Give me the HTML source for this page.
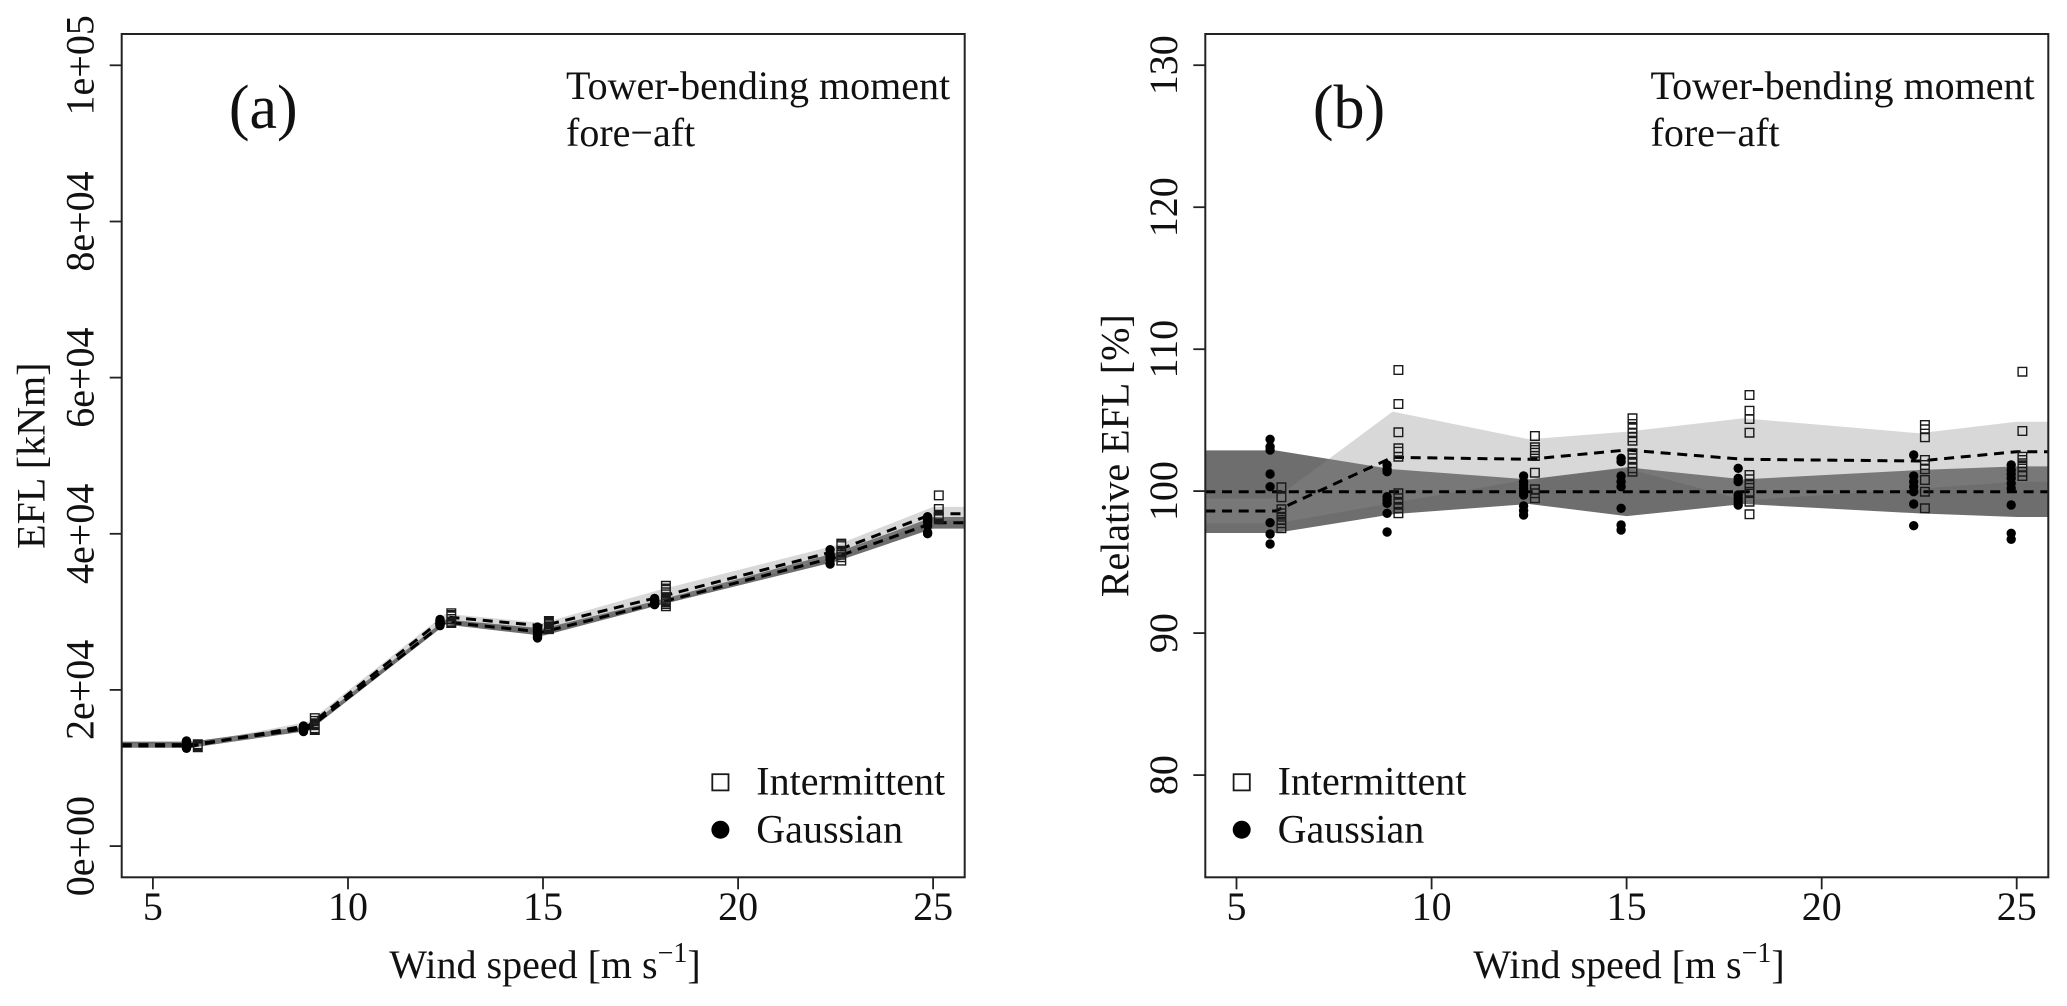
<!DOCTYPE html>
<html>
<head>
<meta charset="utf-8">
<style>
  html, body { margin:0; padding:0; background:#fff; }
  svg { display:block; }
  text { font-family: "Liberation Serif", "Times New Roman", serif; fill:#111; }
</style>
</head>
<body>
<svg width="2067" height="1006" viewBox="0 0 2067 1006" xmlns="http://www.w3.org/2000/svg">
<rect x="0" y="0" width="2067" height="1006" fill="#fff"/>

<!-- ================= PANEL A ================= -->
<!-- bands -->
<polygon fill="#d9d9d9" points="121.7,744.0 191.9,744.0 309.0,721.5 445.5,613.7 543.0,623.0 660.0,589.7 835.6,545.4 933.1,506.9 964.7,506.9 964.7,520.5 933.1,520.5 835.6,556.6 660.0,603.9 543.0,628.6 445.5,620.1 309.0,729.1 191.9,748.0 121.7,748.0"/>
<polygon fill="#6e6e6e" points="121.7,741.6 191.9,741.6 309.0,725.7 445.5,619.5 543.0,628.4 660.0,599.9 835.6,552.8 933.1,517.0 964.7,517.0 964.7,528.6 933.1,528.6 835.6,561.6 660.0,604.9 543.0,635.8 445.5,624.5 309.0,730.7 191.9,747.6 121.7,747.6"/>
<polygon fill="#d9d9d9" fill-opacity="0.1" points="121.7,744.0 191.9,744.0 309.0,721.5 445.5,613.7 543.0,623.0 660.0,589.7 835.6,545.4 933.1,506.9 964.7,506.9 964.7,520.5 933.1,520.5 835.6,556.6 660.0,603.9 543.0,628.6 445.5,620.1 309.0,729.1 191.9,748.0 121.7,748.0"/>

<!-- dashed means -->
<polyline fill="none" stroke="#000" stroke-width="3" stroke-dasharray="10 6.7" points="121.7,744.6 191.9,744.6 309.0,728.2 445.5,622.0 543.0,632.1 660.0,602.4 835.6,557.2 933.1,522.8 964.7,522.8"/>
<polyline fill="none" stroke="#000" stroke-width="3" stroke-dasharray="10 6.7" points="121.7,746.0 191.9,746.0 309.0,725.3 445.5,616.9 543.0,625.8 660.0,596.8 835.6,551.0 933.1,513.7 964.7,513.7"/>

<!-- gaussian dots A -->
<g fill="#000">
<circle cx="186.5" cy="740.9" r="4.7"/><circle cx="186.5" cy="741.4" r="4.7"/><circle cx="186.5" cy="741.6" r="4.7"/><circle cx="186.5" cy="743.3" r="4.7"/><circle cx="186.5" cy="744.2" r="4.7"/><circle cx="186.5" cy="746.8" r="4.7"/><circle cx="186.5" cy="747.6" r="4.7"/><circle cx="186.5" cy="748.3" r="4.7"/>
<circle cx="303.5" cy="726.0" r="4.7"/><circle cx="303.5" cy="726.3" r="4.7"/><circle cx="303.5" cy="726.5" r="4.7"/><circle cx="303.5" cy="728.6" r="4.7"/><circle cx="303.5" cy="728.9" r="4.7"/><circle cx="303.5" cy="729.2" r="4.7"/><circle cx="303.5" cy="730.0" r="4.7"/><circle cx="303.5" cy="731.5" r="4.7"/>
<circle cx="440.0" cy="619.5" r="4.7"/><circle cx="440.0" cy="620.4" r="4.7"/><circle cx="440.0" cy="620.9" r="4.7"/><circle cx="440.0" cy="621.5" r="4.7"/><circle cx="440.0" cy="622.0" r="4.7"/><circle cx="440.0" cy="622.5" r="4.7"/><circle cx="440.0" cy="624.3" r="4.7"/><circle cx="440.0" cy="625.0" r="4.7"/><circle cx="440.0" cy="625.7" r="4.7"/>
<circle cx="537.5" cy="627.1" r="4.7"/><circle cx="537.5" cy="627.6" r="4.7"/><circle cx="537.5" cy="629.7" r="4.7"/><circle cx="537.5" cy="630.6" r="4.7"/><circle cx="537.5" cy="631.3" r="4.7"/><circle cx="537.5" cy="634.6" r="4.7"/><circle cx="537.5" cy="637.1" r="4.7"/><circle cx="537.5" cy="637.9" r="4.7"/>
<circle cx="654.6" cy="598.4" r="4.7"/><circle cx="654.6" cy="600.1" r="4.7"/><circle cx="654.6" cy="600.7" r="4.7"/><circle cx="654.6" cy="603.0" r="4.7"/><circle cx="654.6" cy="603.5" r="4.7"/><circle cx="654.6" cy="604.1" r="4.7"/><circle cx="654.6" cy="604.7" r="4.7"/>
<circle cx="830.1" cy="549.7" r="4.7"/><circle cx="830.1" cy="554.0" r="4.7"/><circle cx="830.1" cy="555.2" r="4.7"/><circle cx="830.1" cy="556.2" r="4.7"/><circle cx="830.1" cy="557.2" r="4.7"/><circle cx="830.1" cy="559.7" r="4.7"/><circle cx="830.1" cy="564.1" r="4.7"/>
<circle cx="927.6" cy="516.7" r="4.7"/><circle cx="927.6" cy="517.9" r="4.7"/><circle cx="927.6" cy="518.8" r="4.7"/><circle cx="927.6" cy="519.7" r="4.7"/><circle cx="927.6" cy="520.9" r="4.7"/><circle cx="927.6" cy="522.0" r="4.7"/><circle cx="927.6" cy="525.8" r="4.7"/><circle cx="927.6" cy="532.3" r="4.7"/><circle cx="927.6" cy="533.7" r="4.7"/>
</g>

<!-- intermittent squares A -->
<path fill="none" stroke="#1a1a1a" stroke-width="1.4" d="
M193.5 740.0h8.6v8.6h-8.6z M193.5 740.7h8.6v8.6h-8.6z M193.5 741.6h8.6v8.6h-8.6z M193.5 741.8h8.6v8.6h-8.6z M193.5 742.1h8.6v8.6h-8.6z M193.5 742.3h8.6v8.6h-8.6z M193.5 742.6h8.6v8.6h-8.6z M193.5 742.9h8.6v8.6h-8.6z
M310.5 713.8h8.6v8.6h-8.6z M310.5 716.6h8.6v8.6h-8.6z M310.5 719.0h8.6v8.6h-8.6z M310.5 720.3h8.6v8.6h-8.6z M310.5 720.6h8.6v8.6h-8.6z M310.5 721.0h8.6v8.6h-8.6z M310.5 724.0h8.6v8.6h-8.6z M310.5 724.4h8.6v8.6h-8.6z M310.5 724.9h8.6v8.6h-8.6z M310.5 725.3h8.6v8.6h-8.6z M310.5 725.7h8.6v8.6h-8.6z
M447.0 608.9h8.6v8.6h-8.6z M447.0 610.7h8.6v8.6h-8.6z M447.0 611.1h8.6v8.6h-8.6z M447.0 611.5h8.6v8.6h-8.6z M447.0 612.1h8.6v8.6h-8.6z M447.0 614.7h8.6v8.6h-8.6z M447.0 617.3h8.6v8.6h-8.6z M447.0 618.0h8.6v8.6h-8.6z M447.0 618.7h8.6v8.6h-8.6z
M544.6 616.7h8.6v8.6h-8.6z M544.6 617.6h8.6v8.6h-8.6z M544.6 618.2h8.6v8.6h-8.6z M544.6 619.0h8.6v8.6h-8.6z M544.6 619.6h8.6v8.6h-8.6z M544.6 620.1h8.6v8.6h-8.6z M544.6 622.0h8.6v8.6h-8.6z M544.6 622.8h8.6v8.6h-8.6z M544.6 623.5h8.6v8.6h-8.6z M544.6 624.3h8.6v8.6h-8.6z M544.6 624.8h8.6v8.6h-8.6z
M661.6 581.5h8.6v8.6h-8.6z M661.6 584.2h8.6v8.6h-8.6z M661.6 585.6h8.6v8.6h-8.6z M661.6 588.0h8.6v8.6h-8.6z M661.6 595.2h8.6v8.6h-8.6z M661.6 596.0h8.6v8.6h-8.6z M661.6 596.9h8.6v8.6h-8.6z M661.6 598.1h8.6v8.6h-8.6z M661.6 599.8h8.6v8.6h-8.6z M661.6 602.0h8.6v8.6h-8.6z
M837.0 539.3h8.6v8.6h-8.6z M837.0 540.2h8.6v8.6h-8.6z M837.0 541.8h8.6v8.6h-8.6z M837.0 546.4h8.6v8.6h-8.6z M837.0 547.5h8.6v8.6h-8.6z M837.0 548.3h8.6v8.6h-8.6z M837.0 550.5h8.6v8.6h-8.6z M837.0 552.9h8.6v8.6h-8.6z M837.0 556.3h8.6v8.6h-8.6z
M934.5 491.1h8.6v8.6h-8.6z M934.5 504.7h8.6v8.6h-8.6z M934.5 510.5h8.6v8.6h-8.6z M934.5 511.3h8.6v8.6h-8.6z M934.5 512.0h8.6v8.6h-8.6z M934.5 512.8h8.6v8.6h-8.6z M934.5 513.9h8.6v8.6h-8.6z M934.5 514.9h8.6v8.6h-8.6z"/>

<!-- box A -->
<rect x="121.7" y="34" width="843" height="843.3" fill="none" stroke="#222" stroke-width="2"/>
<!-- ticks A -->
<g stroke="#222" stroke-width="1.8">
<line x1="109.7" y1="846.1" x2="121.7" y2="846.1"/>
<line x1="109.7" y1="689.9" x2="121.7" y2="689.9"/>
<line x1="109.7" y1="533.8" x2="121.7" y2="533.8"/>
<line x1="109.7" y1="377.6" x2="121.7" y2="377.6"/>
<line x1="109.7" y1="221.5" x2="121.7" y2="221.5"/>
<line x1="109.7" y1="65.3" x2="121.7" y2="65.3"/>
<line x1="152.9" y1="877.3" x2="152.9" y2="889.3"/>
<line x1="348.0" y1="877.3" x2="348.0" y2="889.3"/>
<line x1="543.0" y1="877.3" x2="543.0" y2="889.3"/>
<line x1="738.1" y1="877.3" x2="738.1" y2="889.3"/>
<line x1="933.1" y1="877.3" x2="933.1" y2="889.3"/>
</g>
<g font-size="40" text-anchor="middle">
<text x="152.9" y="920">5</text>
<text x="348.0" y="920">10</text>
<text x="543.0" y="920">15</text>
<text x="738.1" y="920">20</text>
<text x="933.1" y="920">25</text>
<text transform="translate(93.3,846.1) rotate(-90)">0e+00</text>
<text transform="translate(93.3,689.9) rotate(-90)">2e+04</text>
<text transform="translate(93.3,533.8) rotate(-90)">4e+04</text>
<text transform="translate(93.3,377.6) rotate(-90)">6e+04</text>
<text transform="translate(93.3,221.5) rotate(-90)">8e+04</text>
<text transform="translate(93.3,65.3) rotate(-90)">1e+05</text>
<text transform="translate(44.7,455.7) rotate(-90)">EFL [kNm]</text>
<text x="545" y="978">Wind speed [m s<tspan dy="-16" font-size="28">−1</tspan><tspan dy="16">]</tspan></text>
</g>
<text x="263.3" y="128" font-size="62" text-anchor="middle">(a)</text>
<text x="566" y="99" font-size="40">Tower-bending moment</text>
<text x="566" y="146" font-size="40">fore−aft</text>
<!-- legend A -->
<rect x="712.3" y="774.2" width="16.2" height="16.2" fill="none" stroke="#1a1a1a" stroke-width="1.8"/>
<circle cx="720.4" cy="829.7" r="9" fill="#000"/>
<text x="756.3" y="794.7" font-size="40">Intermittent</text>
<text x="756.3" y="842.5" font-size="40">Gaussian</text>

<!-- ================= PANEL B ================= -->
<polygon fill="#d9d9d9" points="1205.3,498.5 1275.5,498.5 1392.6,411.6 1529.1,439.3 1626.6,431.7 1743.6,418.3 1919.2,433.3 2016.7,421.7 2048.3,421.7 2048.3,481.7 2016.7,481.7 1919.2,488.7 1743.6,500.3 1626.6,468.3 1529.1,479.3 1392.6,503 1275.5,523.5 1205.3,523.5"/>
<polygon fill="#6e6e6e" points="1205.3,450.4 1275.5,450.4 1392.6,469.2 1529.1,479.4 1626.6,467.3 1743.6,479.4 1919.2,470 2016.7,466.4 2048.3,466.4 2048.3,517 2016.7,517 1919.2,513.4 1743.6,504 1626.6,516.1 1529.1,504 1392.6,514.2 1275.5,533 1205.3,533"/>
<polygon fill="#d9d9d9" fill-opacity="0.1" points="1205.3,498.5 1275.5,498.5 1392.6,411.6 1529.1,439.3 1626.6,431.7 1743.6,418.3 1919.2,433.3 2016.7,421.7 2048.3,421.7 2048.3,481.7 2016.7,481.7 1919.2,488.7 1743.6,500.3 1626.6,468.3 1529.1,479.3 1392.6,503 1275.5,523.5 1205.3,523.5"/>

<line x1="1205.3" y1="491.7" x2="2048.3" y2="491.7" stroke="#000" stroke-width="3" stroke-dasharray="10 6.7"/>
<polyline fill="none" stroke="#000" stroke-width="3" stroke-dasharray="10 6.7" points="1205.3,511 1275.5,511 1392.6,457.3 1529.1,459.3 1626.6,450 1743.6,459.3 1919.2,461 2016.7,451.7 2048.3,451.7"/>

<g fill="#000">
<circle cx="1270.1" cy="439.3" r="4.7"/><circle cx="1270.1" cy="446.7" r="4.7"/><circle cx="1270.1" cy="450" r="4.7"/><circle cx="1270.1" cy="474" r="4.7"/><circle cx="1270.1" cy="486.7" r="4.7"/><circle cx="1270.1" cy="522.7" r="4.7"/><circle cx="1270.1" cy="534" r="4.7"/><circle cx="1270.1" cy="544" r="4.7"/>
<circle cx="1387.1" cy="465" r="4.7"/><circle cx="1387.1" cy="469.3" r="4.7"/><circle cx="1387.1" cy="471.7" r="4.7"/><circle cx="1387.1" cy="496.7" r="4.7"/><circle cx="1387.1" cy="500" r="4.7"/><circle cx="1387.1" cy="503.3" r="4.7"/><circle cx="1387.1" cy="513.3" r="4.7"/><circle cx="1387.1" cy="532" r="4.7"/>
<circle cx="1523.6" cy="476" r="4.7"/><circle cx="1523.6" cy="481.7" r="4.7"/><circle cx="1523.6" cy="485" r="4.7"/><circle cx="1523.6" cy="488.3" r="4.7"/><circle cx="1523.6" cy="491.7" r="4.7"/><circle cx="1523.6" cy="495" r="4.7"/><circle cx="1523.6" cy="506" r="4.7"/><circle cx="1523.6" cy="510.7" r="4.7"/><circle cx="1523.6" cy="515" r="4.7"/>
<circle cx="1621.1" cy="458.3" r="4.7"/><circle cx="1621.1" cy="461.7" r="4.7"/><circle cx="1621.1" cy="476" r="4.7"/><circle cx="1621.1" cy="481.7" r="4.7"/><circle cx="1621.1" cy="486.7" r="4.7"/><circle cx="1621.1" cy="508.3" r="4.7"/><circle cx="1621.1" cy="525" r="4.7"/><circle cx="1621.1" cy="530" r="4.7"/>
<circle cx="1738.2" cy="468.3" r="4.7"/><circle cx="1738.2" cy="478.3" r="4.7"/><circle cx="1738.2" cy="481.7" r="4.7"/><circle cx="1738.2" cy="495" r="4.7"/><circle cx="1738.2" cy="498.3" r="4.7"/><circle cx="1738.2" cy="501.7" r="4.7"/><circle cx="1738.2" cy="505" r="4.7"/>
<circle cx="1913.7" cy="455" r="4.7"/><circle cx="1913.7" cy="476" r="4.7"/><circle cx="1913.7" cy="481.7" r="4.7"/><circle cx="1913.7" cy="486.7" r="4.7"/><circle cx="1913.7" cy="491.7" r="4.7"/><circle cx="1913.7" cy="504" r="4.7"/><circle cx="1913.7" cy="525.7" r="4.7"/>
<circle cx="2011.2" cy="465" r="4.7"/><circle cx="2011.2" cy="470" r="4.7"/><circle cx="2011.2" cy="474" r="4.7"/><circle cx="2011.2" cy="478.3" r="4.7"/><circle cx="2011.2" cy="483.3" r="4.7"/><circle cx="2011.2" cy="488.3" r="4.7"/><circle cx="2011.2" cy="505" r="4.7"/><circle cx="2011.2" cy="533.3" r="4.7"/><circle cx="2011.2" cy="539.3" r="4.7"/>
</g>

<path fill="none" stroke="#1a1a1a" stroke-width="1.4" d="
M1277.1 483.0h8.6v8.6h-8.6z M1277.1 493.0h8.6v8.6h-8.6z M1277.1 505.0h8.6v8.6h-8.6z M1277.1 509.0h8.6v8.6h-8.6z M1277.1 512.4h8.6v8.6h-8.6z M1277.1 515.7h8.6v8.6h-8.6z M1277.1 519.0h8.6v8.6h-8.6z M1277.1 524.0h8.6v8.6h-8.6z
M1394.1 365.7h8.6v8.6h-8.6z M1394.1 399.7h8.6v8.6h-8.6z M1394.1 428.0h8.6v8.6h-8.6z M1394.1 444.0h8.6v8.6h-8.6z M1394.1 447.4h8.6v8.6h-8.6z M1394.1 452.4h8.6v8.6h-8.6z M1394.1 489.0h8.6v8.6h-8.6z M1394.1 494.0h8.6v8.6h-8.6z M1394.1 499.0h8.6v8.6h-8.6z M1394.1 504.0h8.6v8.6h-8.6z M1394.1 509.0h8.6v8.6h-8.6z
M1530.6 431.7h8.6v8.6h-8.6z M1530.6 443.0h8.6v8.6h-8.6z M1530.6 445.7h8.6v8.6h-8.6z M1530.6 448.4h8.6v8.6h-8.6z M1530.6 451.7h8.6v8.6h-8.6z M1530.6 468.4h8.6v8.6h-8.6z M1530.6 485.0h8.6v8.6h-8.6z M1530.6 489.0h8.6v8.6h-8.6z M1530.6 494.0h8.6v8.6h-8.6z
M1628.2 414.0h8.6v8.6h-8.6z M1628.2 419.7h8.6v8.6h-8.6z M1628.2 424.0h8.6v8.6h-8.6z M1628.2 429.0h8.6v8.6h-8.6z M1628.2 433.0h8.6v8.6h-8.6z M1628.2 436.4h8.6v8.6h-8.6z M1628.2 449.0h8.6v8.6h-8.6z M1628.2 454.0h8.6v8.6h-8.6z M1628.2 459.0h8.6v8.6h-8.6z M1628.2 464.0h8.6v8.6h-8.6z M1628.2 467.4h8.6v8.6h-8.6z
M1745.2 390.7h8.6v8.6h-8.6z M1745.2 406.4h8.6v8.6h-8.6z M1745.2 414.7h8.6v8.6h-8.6z M1745.2 428.4h8.6v8.6h-8.6z M1745.2 470.7h8.6v8.6h-8.6z M1745.2 475.0h8.6v8.6h-8.6z M1745.2 480.7h8.6v8.6h-8.6z M1745.2 487.4h8.6v8.6h-8.6z M1745.2 497.4h8.6v8.6h-8.6z M1745.2 510.0h8.6v8.6h-8.6z
M1920.6 420.7h8.6v8.6h-8.6z M1920.6 425.0h8.6v8.6h-8.6z M1920.6 433.0h8.6v8.6h-8.6z M1920.6 455.7h8.6v8.6h-8.6z M1920.6 460.7h8.6v8.6h-8.6z M1920.6 465.0h8.6v8.6h-8.6z M1920.6 475.7h8.6v8.6h-8.6z M1920.6 487.4h8.6v8.6h-8.6z M1920.6 504.0h8.6v8.6h-8.6z
M2018.1 367.4h8.6v8.6h-8.6z M2018.1 426.7h8.6v8.6h-8.6z M2018.1 452.4h8.6v8.6h-8.6z M2018.1 455.7h8.6v8.6h-8.6z M2018.1 459.0h8.6v8.6h-8.6z M2018.1 462.4h8.6v8.6h-8.6z M2018.1 467.4h8.6v8.6h-8.6z M2018.1 471.7h8.6v8.6h-8.6z"/>

<rect x="1205.3" y="34" width="843" height="843.3" fill="none" stroke="#222" stroke-width="2"/>
<g stroke="#222" stroke-width="1.8">
<line x1="1193.3" y1="775.1" x2="1205.3" y2="775.1"/>
<line x1="1193.3" y1="633.1" x2="1205.3" y2="633.1"/>
<line x1="1193.3" y1="491.1" x2="1205.3" y2="491.1"/>
<line x1="1193.3" y1="349.2" x2="1205.3" y2="349.2"/>
<line x1="1193.3" y1="207.2" x2="1205.3" y2="207.2"/>
<line x1="1193.3" y1="65.2" x2="1205.3" y2="65.2"/>
<line x1="1236.5" y1="877.3" x2="1236.5" y2="889.3"/>
<line x1="1431.6" y1="877.3" x2="1431.6" y2="889.3"/>
<line x1="1626.6" y1="877.3" x2="1626.6" y2="889.3"/>
<line x1="1821.7" y1="877.3" x2="1821.7" y2="889.3"/>
<line x1="2016.7" y1="877.3" x2="2016.7" y2="889.3"/>
</g>
<g font-size="40" text-anchor="middle">
<text x="1236.5" y="920">5</text>
<text x="1431.6" y="920">10</text>
<text x="1626.6" y="920">15</text>
<text x="1821.7" y="920">20</text>
<text x="2016.7" y="920">25</text>
<text transform="translate(1177,775.1) rotate(-90)">80</text>
<text transform="translate(1177,633.1) rotate(-90)">90</text>
<text transform="translate(1177,491.1) rotate(-90)">100</text>
<text transform="translate(1177,349.2) rotate(-90)">110</text>
<text transform="translate(1177,207.2) rotate(-90)">120</text>
<text transform="translate(1177,65.2) rotate(-90)">130</text>
<text transform="translate(1128.3,455.7) rotate(-90)">Relative EFL [%]</text>
<text x="1629" y="978">Wind speed [m s<tspan dy="-16" font-size="28">−1</tspan><tspan dy="16">]</tspan></text>
</g>
<text x="1349" y="128" font-size="62" text-anchor="middle">(b)</text>
<text x="1650.5" y="99" font-size="40">Tower-bending moment</text>
<text x="1650.5" y="146" font-size="40">fore−aft</text>
<rect x="1233.6" y="774.2" width="16.2" height="16.2" fill="none" stroke="#1a1a1a" stroke-width="1.8"/>
<circle cx="1241.7" cy="829.7" r="9" fill="#000"/>
<text x="1277.6" y="794.7" font-size="40">Intermittent</text>
<text x="1277.6" y="842.5" font-size="40">Gaussian</text>
</svg>
</body>
</html>
